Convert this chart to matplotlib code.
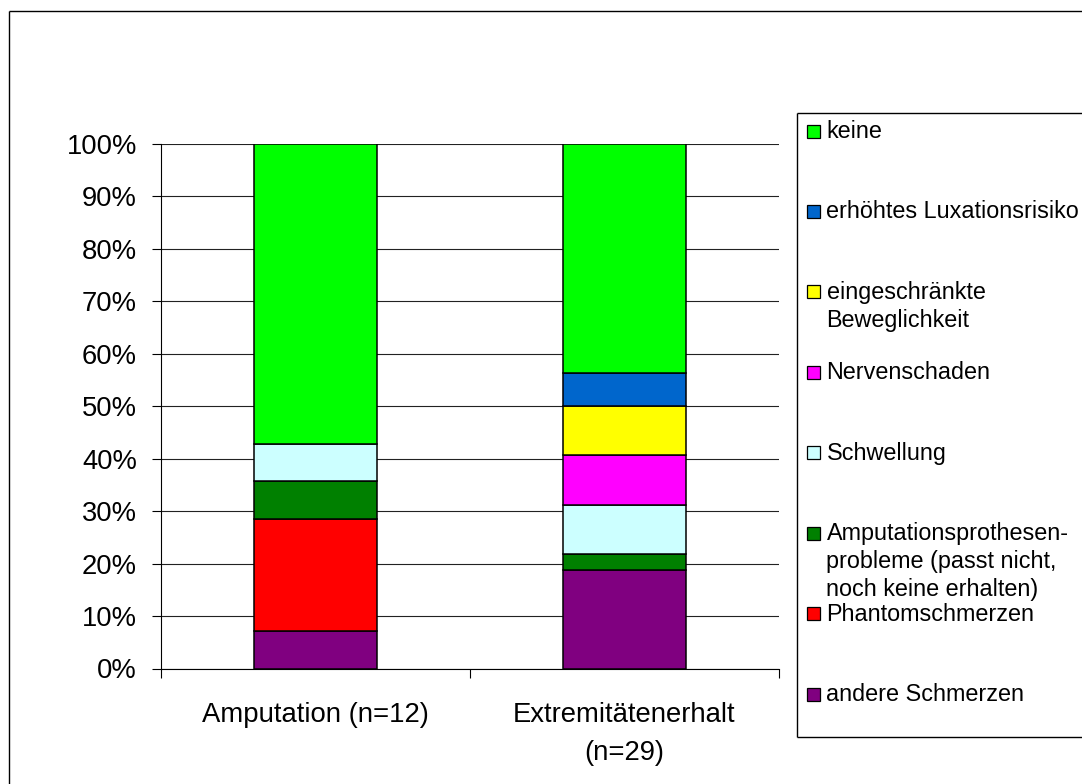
import numpy as np
import matplotlib
matplotlib.use("Agg")
import matplotlib.pyplot as plt
from matplotlib.patches import Rectangle
from matplotlib.lines import Line2D

plt.rcParams['font.family'] = ['Liberation Sans', 'DejaVu Sans']

categories = ["Amputation (n=12)", "Extremitätenerhalt\n(n=29)"]

# share of answers per group in percent, stacked bottom -> top
andere_schmerzen = [7.14, 18.75]
phantomschmerzen = [21.43, 0.0]
prothesenprobleme = [7.14, 3.13]
schwellung = [7.14, 9.38]
nervenschaden = [0.0, 9.38]
beweglichkeit = [0.0, 9.38]
luxationsrisiko = [0.0, 6.25]
keine = [57.14, 43.75]

series_labels = [
    "andere Schmerzen",
    "Phantomschmerzen",
    "Amputationsprothesen-\nprobleme (passt nicht,\nnoch keine erhalten)",
    "Schwellung",
    "Nervenschaden",
    "eingeschränkte\nBeweglichkeit",
    "erhöhtes Luxationsrisiko",
    "keine",
]
series_colors = ["#800080", "#FF0000", "#008000", "#CCFFFF",
                 "#FF00FF", "#FFFF00", "#0066CC", "#00FF00"]
y_ticks = list(range(0, 101, 10))

series_values = [andere_schmerzen, phantomschmerzen, prothesenprobleme, schwellung,
                 nervenschaden, beweglichkeit, luxationsrisiko, keine]

W, H = 1082, 784
fig = plt.figure(figsize=(W / 100, H / 100), dpi=100)


def fx(px):
    return px / W


def fy(py):
    return 1 - py / H


def fig_line(xs, ys, lw=1.0):
    fig.add_artist(Line2D([fx(v) for v in xs], [fy(v) for v in ys],
                          transform=fig.transFigure, color="black", linewidth=lw,
                          solid_capstyle="butt"))


ax = fig.add_axes([fx(161), fy(668.5), fx(779) - fx(161), fy(144) - fy(668.5)])

x = np.arange(len(categories))
bottom = np.zeros(len(categories))
for vals, color in zip(series_values, series_colors):
    vals = np.asarray(vals, dtype=float)
    mask = vals > 0
    ax.bar(x[mask], vals[mask], 0.4, bottom=bottom[mask], color=color,
           edgecolor="black", linewidth=1.1, zorder=3)
    bottom += vals

ax.set_xlim(-0.5, 1.5)
ax.set_ylim(0, 100)
ax.set_yticks(y_ticks, [f"{t}%" for t in y_ticks])
ax.tick_params(axis="y", length=6.5, width=0.8, pad=10.8, labelsize=19.7, direction="out")
ax.set_xticks(x, categories)
ax.set_xticks([-0.5, 0.5, 1.5], minor=True)
ax.tick_params(axis="x", which="major", length=0, pad=24, labelsize=19.8)
ax.tick_params(axis="x", which="minor", length=6.5, width=0.8, direction="out")
for lbl in ax.get_xticklabels():
    lbl.set_linespacing(1.63)

ax.yaxis.grid(True, color="#222222", linewidth=0.8)
ax.set_axisbelow(True)
for side in ("top", "right"):
    ax.spines[side].set_visible(False)
for side in ("left", "bottom"):
    ax.spines[side].set_color("black")
    ax.spines[side].set_linewidth(0.8)

# outer chart frame (runs off the right and bottom edges)
fig_line([9, 9], [784, 11])
fig_line([9, 1082], [11, 11])

# legend box, open towards the right edge
fig_line([1082, 796.5], [112.5, 112.5])
fig_line([796.5, 796.5], [112.5, 736.5])
fig_line([796.5, 1082], [736.5, 736.5])

legend_order = list(range(len(series_labels)))[::-1]
for k, i in enumerate(legend_order):
    cy = 131 + 80.45 * k
    fig.patches.append(Rectangle((fx(807), fy(cy + 6.5)), fx(820) - fx(807),
                                 fy(cy - 6.5) - fy(cy + 6.5), transform=fig.transFigure,
                                 facecolor=series_colors[i], edgecolor="black",
                                 linewidth=0.9))
    for j, line in enumerate(series_labels[i].split("\n")):
        fig.text(fx(826.5), fy(cy + 7 + 27.7 * j), line, fontsize=16.8,
                 ha="left", va="baseline", color="black")

fig.savefig("out.png", dpi=100)
